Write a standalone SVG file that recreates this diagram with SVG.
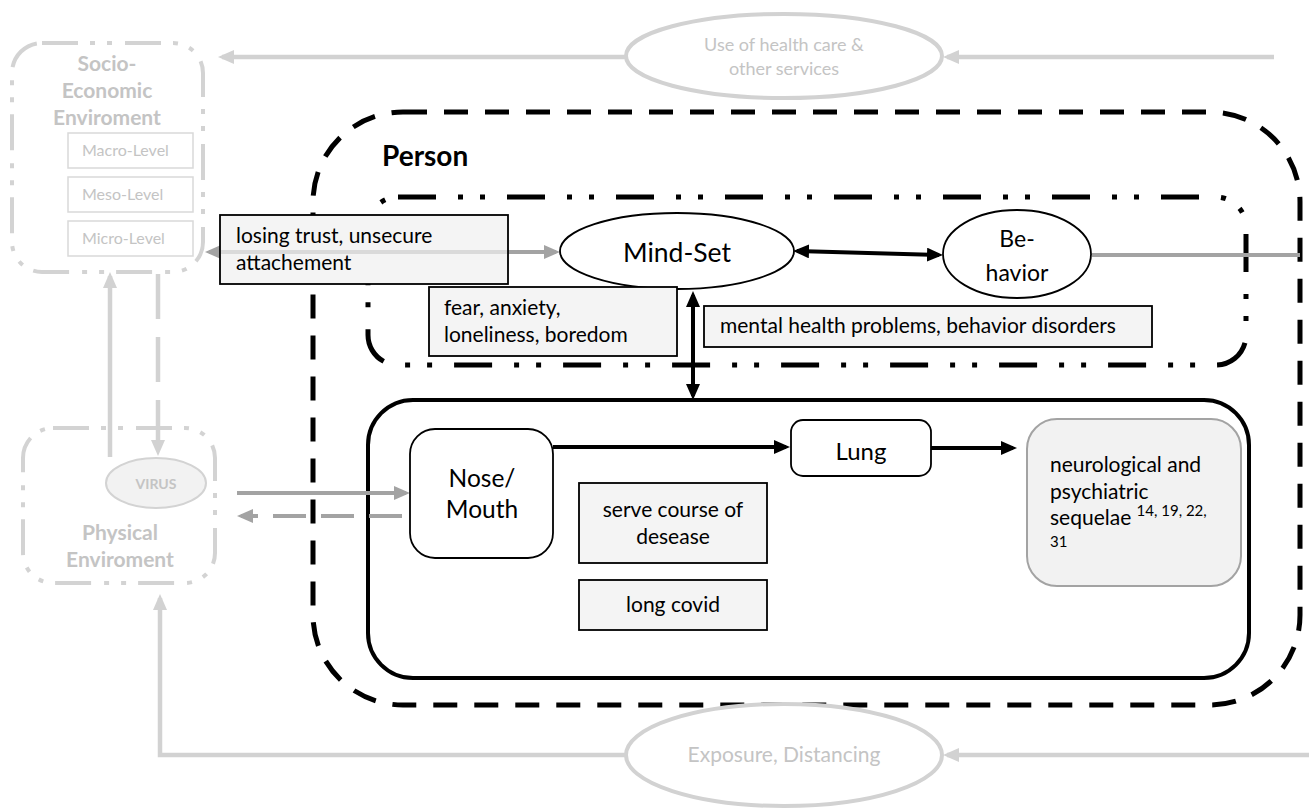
<svg xmlns="http://www.w3.org/2000/svg" width="1309" height="808" viewBox="0 0 1309 808">
  <style>
    text { font-family: Lato, "Open Sans", "Liberation Sans", sans-serif; }
    .t { fill: #000; font-size: 21px; }
    .pale { fill: #c4c4c4; }
    .lvl { fill: #c4c4c4; font-size: 16px; }
    .envtitle { fill: #c4c4c4; font-size: 21px; font-weight: bold; }
    .note { fill: #f4f4f4; stroke: #000; stroke-width: 1.8; }
    .lvlbox { fill: #fff; stroke: #d9d9d9; stroke-width: 1.5; }
    .envbox { fill: none; stroke: #d3d3d3; stroke-width: 4; stroke-dasharray: 36 12 5 12 5 13; }
    .blk { stroke: #000; stroke-width: 4; fill: none; }
    .gry { stroke: #a3a3a3; stroke-width: 4; fill: none; }
    .lgt { stroke: #d2d2d2; stroke-width: 4.5; fill: none; }
  </style>
  <defs>
    <marker id="ahBlack" viewBox="0 0 16 14" refX="12" refY="7" markerWidth="16" markerHeight="14" markerUnits="userSpaceOnUse" orient="auto-start-reverse">
      <path d="M0,0 L16,7 L0,14 z" fill="#000"/>
    </marker>
    <marker id="ahGrey" viewBox="0 0 16 14" refX="12" refY="7" markerWidth="16" markerHeight="14" markerUnits="userSpaceOnUse" orient="auto-start-reverse">
      <path d="M0,0 L16,7 L0,14 z" fill="#a3a3a3"/>
    </marker>
    <marker id="ahLight" viewBox="0 0 16 14" refX="12" refY="7" markerWidth="16" markerHeight="14" markerUnits="userSpaceOnUse" orient="auto-start-reverse">
      <path d="M0,0 L16,7 L0,14 z" fill="#d2d2d2"/>
    </marker>
  </defs>

  <rect width="1309" height="808" fill="#fff"/>

  <!-- Person container -->
  <g id="person">
    <rect x="313" y="112" width="987" height="593" rx="90" fill="none" stroke="#000" stroke-width="5" stroke-dasharray="24 17"/>
    <text x="382" y="166" font-size="28" font-weight="bold" fill="#000">Person</text>
  </g>

  <!-- Mind-set area -->
  <g id="mind-area">
    <rect x="368" y="197" width="878" height="168" rx="30" fill="none" stroke="#000" stroke-width="5" stroke-dasharray="38 22 5 17 5 22"/>
  </g>

  <!-- Body area -->
  <g id="body-area">
    <rect x="368" y="400" width="881" height="278" rx="45" fill="none" stroke="#000" stroke-width="4"/>
  </g>

  <!-- Socio-economic environment -->
  <g id="socio-economic">
    <rect x="12" y="43" width="191" height="229" rx="30" class="envbox" stroke-dasharray="38 12 5 12 5 12"/>
    <text x="107" y="71" class="envtitle" text-anchor="middle">Socio-</text>
    <text x="107" y="98" class="envtitle" text-anchor="middle">Economic</text>
    <text x="107" y="125" class="envtitle" text-anchor="middle">Enviroment</text>
    <rect x="68" y="133" width="125" height="35" class="lvlbox"/>
    <text x="82" y="156" class="lvl">Macro-Level</text>
    <rect x="68" y="177" width="125" height="35" class="lvlbox"/>
    <text x="82" y="200" class="lvl">Meso-Level</text>
    <rect x="68" y="221" width="125" height="35" class="lvlbox"/>
    <text x="82" y="244" class="lvl">Micro-Level</text>
  </g>

  <!-- Physical environment -->
  <g id="physical">
    <rect x="23" y="428" width="192" height="155" rx="30" class="envbox"/>
    <text x="120" y="540" class="envtitle" text-anchor="middle">Physical</text>
    <text x="120" y="567" class="envtitle" text-anchor="middle">Enviroment</text>
  </g>

  <!-- Connectors -->
  <g id="connectors">
    <line x1="110" y1="457" x2="110" y2="276" class="lgt" marker-end="url(#ahLight)"/>
    <line x1="158" y1="274" x2="158" y2="452" class="lgt" stroke-dasharray="45 18" marker-end="url(#ahLight)"/>
    <line x1="1274" y1="57" x2="947" y2="57" class="lgt" stroke-width="5" marker-end="url(#ahLight)"/>
    <line x1="625" y1="57" x2="222" y2="57" class="lgt" stroke-width="5" marker-end="url(#ahLight)"/>
    <line x1="1309" y1="755" x2="947" y2="755" class="lgt" stroke-width="5" marker-end="url(#ahLight)"/>
    <polyline points="625,755 160,755 160,598" class="lgt" stroke-width="5" marker-end="url(#ahLight)"/>
    <line x1="209" y1="252" x2="556" y2="252" class="gry" marker-start="url(#ahGrey)" marker-end="url(#ahGrey)"/>
    <line x1="237" y1="493" x2="406" y2="493" class="gry" marker-end="url(#ahGrey)"/>
    <line x1="402" y1="516" x2="241" y2="516" class="gry" stroke-dasharray="33 15" marker-end="url(#ahGrey)"/>
    <line x1="1092" y1="255" x2="1300" y2="255" class="gry"/>
    <line x1="797" y1="251" x2="939" y2="255" class="blk" marker-start="url(#ahBlack)" marker-end="url(#ahBlack)"/>
    <line x1="693" y1="295" x2="693" y2="396" class="blk" marker-start="url(#ahBlack)" marker-end="url(#ahBlack)"/>
    <line x1="553" y1="447" x2="786" y2="447" class="blk" stroke-width="5" marker-end="url(#ahBlack)"/>
    <line x1="931" y1="448" x2="1013" y2="448" class="blk" stroke-width="5" marker-end="url(#ahBlack)"/>
  </g>

  <!-- Service use -->
  <g id="service-use">
    <ellipse cx="784" cy="56" rx="158" ry="42" fill="#fff" stroke="#d2d2d2" stroke-width="4"/>
    <text x="784" y="51" font-size="18" class="pale" text-anchor="middle">Use of health care &amp;</text>
    <text x="784" y="75" font-size="18" class="pale" text-anchor="middle">other services</text>
  </g>

  <!-- Exposure -->
  <g id="exposure">
    <ellipse cx="784" cy="755" rx="158" ry="51" fill="#fff" stroke="#d2d2d2" stroke-width="4"/>
    <text x="784" y="762" font-size="21" class="pale" text-anchor="middle">Exposure, Distancing</text>
  </g>

  <!-- Virus -->
  <g id="virus">
    <ellipse cx="156" cy="483" rx="50" ry="25" fill="#f2f2f2" stroke="#d3d3d3" stroke-width="2"/>
    <text x="156" y="489" font-size="14" font-weight="bold" class="pale" text-anchor="middle">VIRUS</text>
  </g>

  <!-- Trust note -->
  <g id="trust">
    <rect x="220" y="215" width="288" height="69" class="note"/>
    <line x1="221" y1="252" x2="507" y2="252" stroke="#dadada" stroke-width="4"/>
    <text x="236" y="243" class="t">losing trust, unsecure</text>
    <text x="236" y="270" class="t">attachement</text>
  </g>

  <!-- Mind-Set -->
  <g id="mind-set">
    <ellipse cx="677" cy="251" rx="117" ry="38" fill="#fff" stroke="#000" stroke-width="1.8"/>
    <text x="677" y="262" font-size="26.5" text-anchor="middle" fill="#000">Mind-Set</text>
  </g>

  <!-- Behavior -->
  <g id="behavior">
    <ellipse cx="1017" cy="254" rx="74" ry="44" fill="#fff" stroke="#000" stroke-width="1.8"/>
    <text x="1017" y="247" font-size="23" text-anchor="middle" fill="#000">Be-</text>
    <text x="1017" y="281" font-size="23" text-anchor="middle" fill="#000">havior</text>
  </g>

  <!-- Emotions note -->
  <g id="emotions">
    <rect x="429" y="287" width="248" height="69" class="note"/>
    <text x="444" y="315" class="t">fear, anxiety,</text>
    <text x="444" y="342" class="t">loneliness, boredom</text>
  </g>

  <!-- Mental health note -->
  <g id="mental-health">
    <rect x="704" y="306" width="448" height="41" class="note"/>
    <text x="720" y="333" class="t">mental health problems, behavior disorders</text>
  </g>

  <!-- Nose / Mouth -->
  <g id="nose-mouth">
    <rect x="410" y="429" width="143" height="129" rx="25" fill="#fff" stroke="#000" stroke-width="1.8"/>
    <text x="482" y="487" font-size="24.5" text-anchor="middle" fill="#000">Nose/</text>
    <text x="482" y="518" font-size="24.5" text-anchor="middle" fill="#000">Mouth</text>
  </g>

  <!-- Lung -->
  <g id="lung">
    <rect x="791" y="420" width="140" height="56" rx="12" fill="#fff" stroke="#000" stroke-width="1.8"/>
    <text x="861" y="460" font-size="24" text-anchor="middle" fill="#000">Lung</text>
  </g>

  <!-- Severe course note -->
  <g id="course">
    <rect x="579" y="483" width="188" height="80" class="note"/>
    <text x="673" y="517" class="t" text-anchor="middle">serve course of</text>
    <text x="673" y="544" class="t" text-anchor="middle">desease</text>
  </g>

  <!-- Long covid note -->
  <g id="long-covid">
    <rect x="579" y="580" width="188" height="50" class="note"/>
    <text x="673" y="612" class="t" text-anchor="middle">long covid</text>
  </g>

  <!-- Sequelae -->
  <g id="sequelae">
    <rect x="1027" y="419" width="214" height="167" rx="30" fill="#f2f2f2" stroke="#a3a3a3" stroke-width="2"/>
    <text x="1050" y="472" class="t">neurological and</text>
    <text x="1050" y="499" class="t">psychiatric</text>
    <text x="1050" y="525" class="t">sequelae <tspan font-size="15" dy="-9">14, 19, 22,</tspan></text>
    <text x="1050" y="547" font-size="15" fill="#000">31</text>
  </g>
</svg>
